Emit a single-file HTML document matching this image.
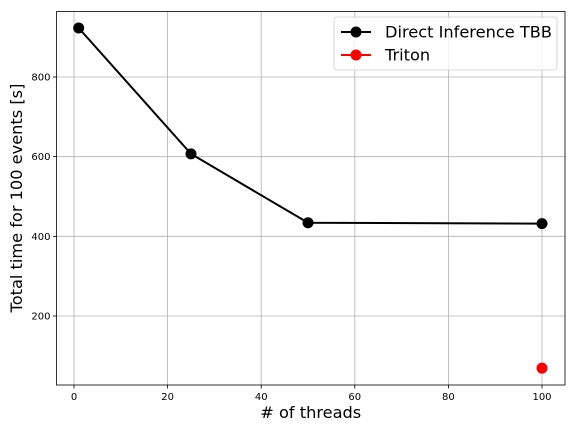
<!DOCTYPE html>
<html><head><meta charset="utf-8"><style>body{margin:0;background:#fff}svg{display:block;font-family:"DejaVu Sans","Liberation Sans",sans-serif}</style></head>
<body>
<svg id="c" width="576" height="432" viewBox="0 0 576 432"></svg>
<script>
const tbbX=[1,25,50,100];
const tbbY=[923,607,434,432];
const tritonX=[100];
const tritonY=[69];
const xTicks=[0,20,40,60,80,100];
const yTicks=[200,400,600,800];
const L=56.5,R=565,T=11.5,B=385;
const sx=v=>74+(v-0)*(542-74)/100;
const sy=v=>316+(v-200)*(77-316)/600;
const svg=document.getElementById('c');
const NS='http://www.w3.org/2000/svg';
function mk(t,a,p){const e=document.createElementNS(NS,t);for(const k in a)e.setAttribute(k,a[k]);(p||svg).appendChild(e);return e;}
const g=mk('g',{});


xTicks.forEach(v=>{const x=sx(v);
 const l=mk('line',{x1:x,x2:x,y1:T,y2:B,stroke:'#b0b0b0','stroke-width':0.8},g);
 
 const tk=mk('line',{x1:x,x2:x,y1:B,y2:B+3.5,stroke:'#000','stroke-width':0.8});
 
 const t=mk('text',{x:x,y:B+15,'font-size':10,'text-anchor':'middle',fill:'#000'});t.textContent=v;
 });
yTicks.forEach(v=>{const y=sy(v);
 const l=mk('line',{x1:L,x2:R,y1:y,y2:y,stroke:'#b0b0b0','stroke-width':0.8},g);
 
 const tk=mk('line',{x1:L-3.5,x2:L,y1:y,y2:y,stroke:'#000','stroke-width':0.8});
 
 const t=mk('text',{x:L-6,y:y+3.5,'font-size':10,'text-anchor':'end',fill:'#000'});t.textContent=v;
 });
const line=mk('polyline',{points:tbbX.map((x,i)=>sx(x)+','+sy(tbbY[i])).join(' '),fill:'none',stroke:'#000','stroke-width':2});

tbbX.forEach((x,i)=>{const c=mk('circle',{cx:sx(x),cy:sy(tbbY[i]),r:5.5,fill:'#000'});
 });
tritonX.forEach((x,i)=>{const c=mk('circle',{cx:sx(x),cy:sy(tritonY[i]),r:5.5,fill:'#f00'});
 });
const fr=mk('rect',{x:L,y:T,width:R-L,height:B-T,fill:'none',stroke:'#000','stroke-width':0.8});

const xl=mk('text',{x:(L+R)/2,y:418,'font-size':16.2,'text-anchor':'middle'});xl.textContent='# of threads';

const yl=mk('text',{x:0,y:0,'font-size':16.2,'text-anchor':'middle',transform:'translate(22,198) rotate(-90)'});yl.textContent='Total time for 100 events [s]';

const lg=mk('g',{});

mk('rect',{x:334,y:17,width:223,height:53,rx:3,fill:'#fff','fill-opacity':0.8,stroke:'#ccc','stroke-width':0.8},lg);
[['Direct Inference TBB','#000',32],['Triton','#f00',55]].forEach(([n,c,y])=>{
 const e=mk('g',{},lg);
 
 mk('line',{x1:341,x2:371,y1:y,y2:y,stroke:c,'stroke-width':2},e);
 mk('circle',{cx:356,cy:y,r:5.5,fill:c},e);
 const t=mk('text',{x:385,y:y+5.5,'font-size':16.2},e);t.textContent=n;});
</script>
</body></html>
